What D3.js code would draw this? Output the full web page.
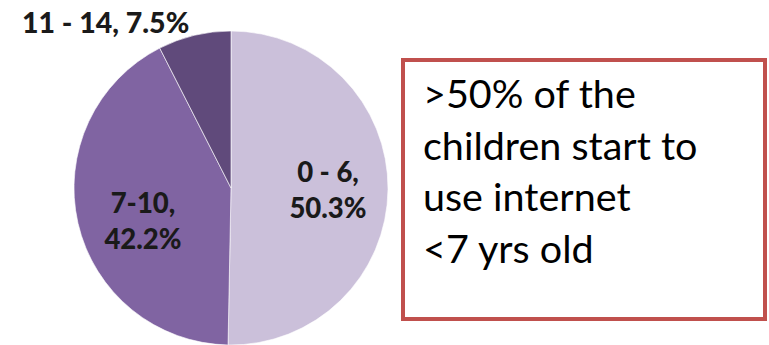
<!DOCTYPE html>
<html><head><meta charset="utf-8">
<script src="https://cdn.jsdelivr.net/npm/d3@7"></script>
<style>body{margin:0;background:#fff}svg{display:block}</style>
</head><body>
<svg id="c" width="769" height="345"></svg>
<script>
const categories = ["0 - 6", "7-10", "11 - 14"];
const values = [50.3, 42.2, 7.5];
const colors = ["#CBC0DA", "#8064A2", "#604A7B"];
const noteLines = [">50% of the", "children start to", "use internet", "<7 yrs old"];

const svg = d3.select("#c");
const cx = 231, cy = 188, r = 157;
const pie = d3.pie().sort(null).value(d => d)(values);
const arc = d3.arc().innerRadius(0).outerRadius(r);
const g = svg.append("g").attr("transform", `translate(${cx},${cy})`);
g.selectAll("path").data(pie).enter().append("path")
  .attr("d", arc).attr("fill", (d, i) => colors[i])
  .attr("stroke", "#fff").attr("stroke-width", 0.6);

const lf = "Lato, 'Open Sans', sans-serif";
function lbl(lines, x, y, anchor, size) {
  const t = svg.append("text").attr("x", x).attr("y", y)
    .attr("text-anchor", anchor).attr("font-family", lf)
    .attr("font-weight", 900).attr("font-size", size).attr("fill", "#1a1a1a");
  lines.forEach((l, i) => t.append("tspan").attr("x", x).attr("dy", i ? 36 : 0).text(l));
}
lbl([`${categories[0]},`, `${values[0]}%`], 328, 182, "middle", 27.5);
lbl([`${categories[1]},`, `${values[1]}%`], 143, 213, "middle", 27.5);
lbl([`${categories[2]}, ${values[2]}%`], 22, 33, "start", 28.5);

svg.append("rect").attr("x", 403).attr("y", 60).attr("width", 362).attr("height", 259)
  .attr("fill", "#fff").attr("stroke", "#C0504D").attr("stroke-width", 4);
const nt = svg.append("text").attr("font-family", "Lato, 'Open Sans', sans-serif")
  .attr("font-size", 39.5).attr("fill", "#000");
noteLines.forEach((l, i) => nt.append("tspan").attr("x", 423).attr("y", 108 + i * 51.5).text(l));
</script>
</body></html>
